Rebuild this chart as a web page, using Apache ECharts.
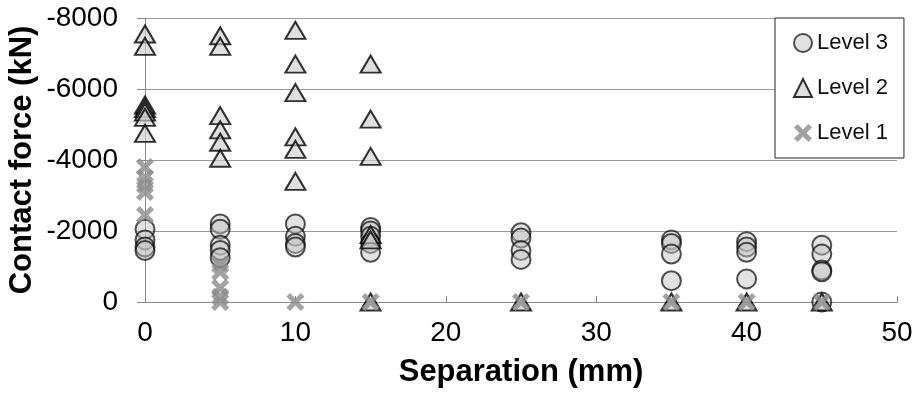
<!DOCTYPE html>
<html>
<head>
<meta charset="utf-8">
<script src="https://cdn.jsdelivr.net/npm/echarts@6/dist/echarts.min.js"></script>
<style>
  html, body { margin: 0; padding: 0; background: #fff; }
  #chart { width: 920px; height: 394px; }
</style>
</head>
<body>
<div id="chart"></div>
<script>
// Contact force readings (kN, compression negative) at each separation (mm)
const xTicks = [0, 10, 20, 30, 40, 50];
const yTicks = [-8000, -6000, -4000, -2000, 0];

const level3Sep   = [0, 0, 0, 0, 5, 5, 5, 5, 5, 10, 10, 10, 10, 15, 15, 15, 15, 15, 25, 25, 25, 25, 35, 35, 35, 35, 40, 40, 40, 40, 45, 45, 45, 45, 45];
const level3Force = [-2050, -1750, -1550, -1450, -2200, -2050, -1600, -1450, -1250, -2200, -1850, -1650, -1550, -2100, -2000, -1850, -1650, -1400, -1950, -1800, -1450, -1200, -1750, -1650, -1350, -600, -1700, -1550, -1400, -650, -1600, -1350, -900, -850, 0];

const level2Sep   = [0, 0, 0, 0, 0, 0, 0, 5, 5, 5, 5, 5, 5, 10, 10, 10, 10, 10, 10, 15, 15, 15, 15, 15, 15, 25, 35, 40, 45];
const level2Force = [-7550, -7200, -5550, -5450, -5350, -5200, -4750, -7500, -7200, -5250, -4850, -4500, -4050, -7650, -6700, -5900, -4650, -4300, -3400, -6700, -5150, -4100, -1900, -1750, 0, 0, 0, 0, 0];

const level1Sep   = [0, 0, 0, 0, 0, 5, 5, 5, 5, 5, 10, 15, 25, 35, 40, 45];
const level1Force = [-3800, -3500, -3300, -3100, -2450, -1050, -850, -400, -150, 0, 0, 0, 0, 0, 0, 0];

const seriesNames = ['Level 3', 'Level 2', 'Level 1'];

function pairs(xs, ys) {
  return xs.map((x, i) => [x, ys[i]]);
}

// thick diagonal cross drawn as a filled outline
const crossPath = 'path://M0,2L2,0L5,3L8,0L10,2L7,5L10,8L8,10L5,7L2,10L0,8L3,5Z';

const FONT = 'Liberation Sans, Arial, sans-serif';
const plainNumber = v => String(v);

const chart = echarts.init(document.getElementById('chart'), null, { renderer: 'canvas' });

chart.setOption({
  animation: false,
  backgroundColor: '#ffffff',
  grid: { left: 145, right: 23, top: 18, bottom: 92, containLabel: false, outerBoundsMode: 'none' },
  legend: {
    orient: 'vertical',
    left: 775,
    top: 18,
    padding: [14, 16, 14, 18],
    itemGap: 23,
    itemWidth: 18,
    itemHeight: 18,
    backgroundColor: '#ffffff',
    borderColor: '#222',
    borderWidth: 1,
    data: seriesNames,
    textStyle: { fontFamily: FONT, fontSize: 22, color: '#111' }
  },
  xAxis: {
    type: 'value',
    min: xTicks[0],
    max: xTicks[xTicks.length - 1],
    interval: 10,
    name: 'Separation (mm)',
    nameLocation: 'middle',
    nameGap: 55,
    nameMoveOverlap: false,
    nameTextStyle: { fontFamily: FONT, fontSize: 31, fontWeight: 'bold', color: '#000' },
    axisLine: { show: true, lineStyle: { color: '#8a8a8a', width: 1 } },
    axisTick: { show: true, inside: true, length: 6, lineStyle: { color: '#8a8a8a' } },
    axisLabel: { fontFamily: FONT, fontSize: 28, color: '#000', margin: 17, formatter: plainNumber },
    splitLine: { show: false }
  },
  yAxis: {
    type: 'value',
    inverse: true,
    min: yTicks[0],
    max: yTicks[yTicks.length - 1],
    interval: 2000,
    name: 'Contact force (kN)',
    nameLocation: 'middle',
    nameGap: 107,
    nameRotate: 90,
    nameMoveOverlap: false,
    nameTextStyle: { fontFamily: FONT, fontSize: 31, fontWeight: 'bold', color: '#000' },
    axisLine: { show: true, lineStyle: { color: '#8a8a8a', width: 1 } },
    axisTick: { show: true, inside: false, length: 8, lineStyle: { color: '#8a8a8a' } },
    axisLabel: { fontFamily: FONT, fontSize: 28, color: '#000', margin: 27, formatter: plainNumber },
    splitLine: { show: true, lineStyle: { color: '#9a9a9a', width: 1 } }
  },
  series: [
    {
      name: seriesNames[0],
      type: 'scatter',
      symbol: 'circle',
      symbolSize: 19,
      z: 2,
      data: pairs(level3Sep, level3Force),
      itemStyle: { color: 'rgba(195,195,195,0.6)', borderColor: 'rgba(0,0,0,0.85)', borderWidth: 2 }
    },
    {
      name: seriesNames[1],
      type: 'scatter',
      symbol: 'triangle',
      symbolSize: [20, 17],
      z: 3,
      data: pairs(level2Sep, level2Force),
      itemStyle: { color: 'rgba(205,205,205,0.8)', borderColor: '#000', borderWidth: 2 }
    },
    {
      name: seriesNames[2],
      type: 'scatter',
      symbol: crossPath,
      symbolSize: 18,
      z: 4,
      data: pairs(level1Sep, level1Force),
      itemStyle: { color: '#8c8c8c', borderWidth: 0 }
    }
  ]
});
</script>
</body>
</html>
